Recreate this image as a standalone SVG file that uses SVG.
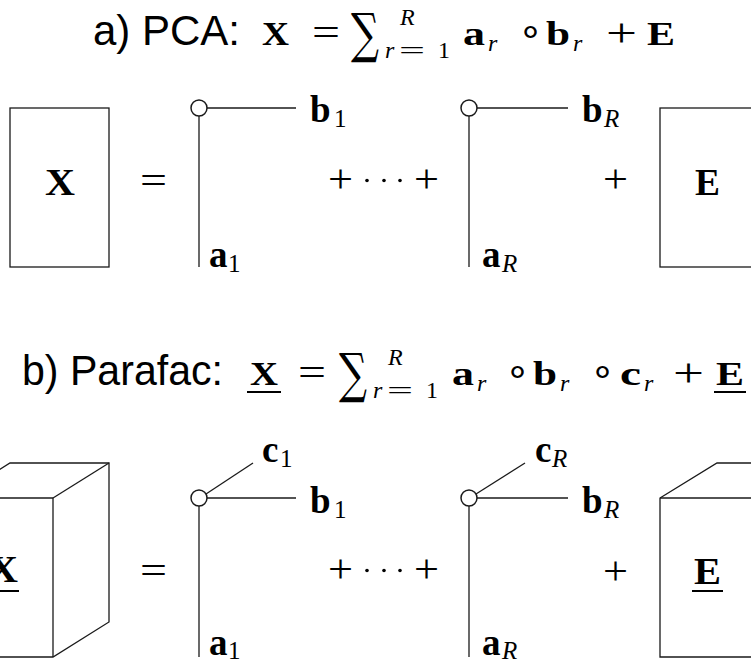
<svg xmlns="http://www.w3.org/2000/svg" width="751" height="664" viewBox="0 0 751 664">
<style>
.ln{stroke:#1a1a1a;stroke-width:1.3;fill:none}
.box{stroke:#1a1a1a;stroke-width:1.3;fill:#fff}
.dot{stroke:#1a1a1a;stroke-width:1.5;fill:#fff}
.ul{stroke:#000;stroke-width:2}
.ss{font-family:"Liberation Sans",Arial,sans-serif;font-size:42px;fill:#000}
.bf{font-family:"Liberation Serif","Times New Roman",serif;font-weight:bold;fill:#000}
.rm{font-family:"Liberation Serif","Times New Roman",serif;fill:#000}
.it{font-family:"Liberation Serif","Times New Roman",serif;font-style:italic;fill:#000}
.big{font-size:37px}
.sub{font-size:25px}
.t{font-size:34px}
.op{font-size:40px}
.ts{font-size:24px}
.sum{font-family:"DejaVu Serif","Liberation Serif",serif;font-size:54px;fill:#000}
</style>
<rect width="751" height="664" fill="#fff"/>

<!-- Title a -->
<g id="title-a">
<text class="ss" x="93" y="45" textLength="147" lengthAdjust="spacingAndGlyphs">a) PCA:</text>
<text class="bf t" x="262" y="45" textLength="27" lengthAdjust="spacingAndGlyphs">X</text>
<text class="rm op" x="312" y="46" textLength="28" lengthAdjust="spacingAndGlyphs">=</text>
<text class="sum" x="351" y="52" textLength="28" lengthAdjust="spacingAndGlyphs">∑</text>
<text class="it ts" x="400" y="25">R</text>
<text class="it ts" x="385" y="58">r</text>
<text class="rm ts" x="399" y="58" textLength="26" lengthAdjust="spacingAndGlyphs">=</text>
<text class="rm ts" x="438" y="58">1</text>
<text class="bf t" x="463" y="45" textLength="22" lengthAdjust="spacingAndGlyphs">a</text>
<text class="it ts" x="488" y="51">r</text>
<text class="rm op" x="518" y="45">∘</text>
<text class="bf t" x="546" y="45" textLength="24" lengthAdjust="spacingAndGlyphs">b</text>
<text class="it ts" x="573" y="51">r</text>
<text class="rm op" x="606" y="46" textLength="31" lengthAdjust="spacingAndGlyphs">+</text>
<text class="bf t" x="647" y="45" textLength="28" lengthAdjust="spacingAndGlyphs">E</text>
</g>

<!-- Section a -->
<g id="X-matrix">
<rect class="box" x="10" y="108" width="99" height="159"/>
<text class="bf big" x="45" y="195" textLength="30" lengthAdjust="spacingAndGlyphs">X</text>
</g>
<text class="rm" style="font-size:40px" x="140" y="194" textLength="27" lengthAdjust="spacingAndGlyphs">=</text>

<g id="connectors">
<line class="ln" x1="199" y1="116" x2="199" y2="267"/>
<line class="ln" x1="207" y1="108" x2="296" y2="108"/>
<line class="ln" x1="469" y1="116" x2="469" y2="267"/>
<line class="ln" x1="477" y1="108" x2="568" y2="108"/>
<line class="ln" x1="199" y1="506" x2="199" y2="657"/>
<line class="ln" x1="207" y1="498" x2="296" y2="498"/>
<line class="ln" x1="206" y1="494" x2="253" y2="463"/>
<line class="ln" x1="469" y1="506" x2="469" y2="657"/>
<line class="ln" x1="477" y1="498" x2="568" y2="498"/>
<line class="ln" x1="476" y1="494" x2="525" y2="463"/>
</g>

<g id="rank1-a1">
<circle class="dot" cx="199" cy="108" r="8"/>
<text class="bf big" x="310" y="122">b</text>
<text class="rm sub" x="334" y="127">1</text>
<text class="bf big" x="209" y="267">a</text>
<text class="rm sub" x="228" y="272">1</text>
</g>
<g id="dots-a">
<text class="rm" style="font-size:40px" x="328" y="192" textLength="25" lengthAdjust="spacingAndGlyphs">+</text>
<circle cx="367" cy="180.5" r="1.8" fill="#000"/>
<circle cx="384" cy="180.5" r="1.8" fill="#000"/>
<circle cx="400" cy="180.5" r="1.8" fill="#000"/>
<text class="rm" style="font-size:40px" x="414" y="192" textLength="25" lengthAdjust="spacingAndGlyphs">+</text>
</g>
<g id="rank1-aR">
<circle class="dot" cx="469" cy="108" r="8"/>
<text class="bf big" x="582" y="122">b</text>
<text class="it sub" x="604" y="127">R</text>
<text class="bf big" x="482" y="267">a</text>
<text class="it sub" x="502" y="272">R</text>
</g>
<text class="rm" style="font-size:40px" x="603" y="192" textLength="25" lengthAdjust="spacingAndGlyphs">+</text>
<g id="E-matrix">
<rect class="box" x="660" y="108" width="110" height="159"/>
<text class="bf big" x="695" y="195" textLength="25" lengthAdjust="spacingAndGlyphs">E</text>
</g>

<!-- Title b -->
<g id="title-b">
<text class="ss" x="22" y="385" textLength="201" lengthAdjust="spacingAndGlyphs">b) Parafac:</text>
<text class="bf t" x="250" y="385" textLength="28" lengthAdjust="spacingAndGlyphs">X</text>
<line class="ul" x1="247" y1="392" x2="281" y2="392"/>
<text class="rm op" x="298" y="386" textLength="28" lengthAdjust="spacingAndGlyphs">=</text>
<text class="sum" x="339" y="392" textLength="28" lengthAdjust="spacingAndGlyphs">∑</text>
<text class="it ts" x="388" y="365">R</text>
<text class="it ts" x="373" y="398">r</text>
<text class="rm ts" x="387" y="398" textLength="26" lengthAdjust="spacingAndGlyphs">=</text>
<text class="rm ts" x="426" y="398">1</text>
<text class="bf t" x="452" y="385" textLength="22" lengthAdjust="spacingAndGlyphs">a</text>
<text class="it ts" x="477" y="391">r</text>
<text class="rm op" x="505" y="385">∘</text>
<text class="bf t" x="533" y="385" textLength="24" lengthAdjust="spacingAndGlyphs">b</text>
<text class="it ts" x="560" y="391">r</text>
<text class="rm op" x="590" y="385">∘</text>
<text class="bf t" x="620" y="385" textLength="21" lengthAdjust="spacingAndGlyphs">c</text>
<text class="it ts" x="644" y="391">r</text>
<text class="rm op" x="673" y="386" textLength="31" lengthAdjust="spacingAndGlyphs">+</text>
<text class="bf t" x="716" y="385" textLength="28" lengthAdjust="spacingAndGlyphs">E</text>
<line class="ul" x1="714" y1="392" x2="746" y2="392"/>
</g>

<!-- Section b -->
<g id="X-tensor">
<polygon class="box" points="-46,498 10,463 109,463 109,622 53,657 -46,657"/>
<line class="ln" x1="-46" y1="498" x2="53" y2="498"/>
<line class="ln" x1="53" y1="498" x2="109" y2="463"/>
<line class="ln" x1="53" y1="498" x2="53" y2="657"/>
<text class="bf big" x="-12" y="582" textLength="30" lengthAdjust="spacingAndGlyphs">X</text>
<line class="ul" x1="-14" y1="591" x2="19" y2="591"/>
</g>
<text class="rm" style="font-size:40px" x="140" y="584" textLength="27" lengthAdjust="spacingAndGlyphs">=</text>

<g id="rank1-b1">
<circle class="dot" cx="199" cy="498" r="8"/>
<text class="bf big" x="262" y="462">c</text>
<text class="rm sub" x="280" y="467">1</text>
<text class="bf big" x="310" y="513">b</text>
<text class="rm sub" x="334" y="518">1</text>
<text class="bf big" x="209" y="655">a</text>
<text class="rm sub" x="228" y="659">1</text>
</g>
<g id="dots-b">
<text class="rm" style="font-size:40px" x="328" y="582" textLength="25" lengthAdjust="spacingAndGlyphs">+</text>
<circle cx="367" cy="570.5" r="1.8" fill="#000"/>
<circle cx="384" cy="570.5" r="1.8" fill="#000"/>
<circle cx="400" cy="570.5" r="1.8" fill="#000"/>
<text class="rm" style="font-size:40px" x="414" y="582" textLength="25" lengthAdjust="spacingAndGlyphs">+</text>
</g>
<g id="rank1-bR">
<circle class="dot" cx="469" cy="498" r="8"/>
<text class="bf big" x="535" y="462">c</text>
<text class="it sub" x="552" y="467">R</text>
<text class="bf big" x="582" y="513">b</text>
<text class="it sub" x="604" y="518">R</text>
<text class="bf big" x="482" y="655">a</text>
<text class="it sub" x="502" y="659">R</text>
</g>
<text class="rm" style="font-size:40px" x="603" y="584" textLength="25" lengthAdjust="spacingAndGlyphs">+</text>
<g id="E-tensor">
<polygon class="box" points="660,498 717,463 800,463 800,657 660,657"/>
<line class="ln" x1="660" y1="498" x2="800" y2="498"/>
<text class="bf big" x="694" y="584" textLength="27" lengthAdjust="spacingAndGlyphs">E</text>
<line class="ul" x1="692" y1="591" x2="723" y2="591"/>
</g>
</svg>
